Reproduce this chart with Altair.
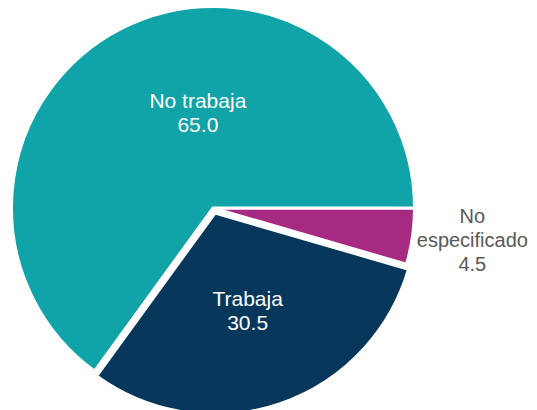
import math
import altair as alt
import pandas as pd

# --- data ---
categories = ["No especificado", "Trabaja", "No trabaja"]
labels = ["No\nespecificado", "Trabaja", "No trabaja"]
values = [4.5, 30.5, 65.0]
order = [0, 1, 2]
colors = ["#a62a82", "#08375c", "#10a4a8"]

df = pd.DataFrame({"categoria": categories, "etiqueta": labels, "valor": values, "orden": order})

theta_scale = alt.Scale(domain=[0, 100], range=[math.pi / 2, math.pi / 2 + 2 * math.pi])
color = alt.Color("categoria:N", scale=alt.Scale(domain=categories, range=colors), legend=None)

base = (
    alt.Chart(df)
    .transform_window(end="sum(valor)", sort=[alt.SortField("orden")], frame=[None, 0])
    .transform_calculate(
        start="datum.end - datum.valor",
        mid="datum.end - datum.valor / 2",
        texto="datum.etiqueta + '\\n' + format(datum.valor, '.1f')",
    )
)

arc_enc = dict(theta=alt.Theta("start:Q", scale=theta_scale), theta2="end:Q", color=color)

pie_rest = (
    base.transform_filter("datum.categoria != 'Trabaja'")
    .mark_arc(outerRadius=201.5, stroke="white", strokeWidth=3)
    .encode(**arc_enc)
)
pie_trab = (
    base.transform_filter("datum.categoria == 'Trabaja'")
    .mark_arc(outerRadius=201.5, stroke="white", strokeWidth=3, xOffset=2, yOffset=5)
    .encode(**arc_enc)
)

text_common = dict(font="Liberation Sans", lineBreak="\n", lineHeight=24,
                   align="center", baseline="middle")

txt_notrab = (
    base.transform_filter("datum.categoria == 'No trabaja'")
    .mark_text(radius=95, dx=28, dy=-21, color="white", fontSize=21, **text_common)
    .encode(theta=alt.Theta("mid:Q", scale=theta_scale), text="texto:N")
)
txt_trab = (
    base.transform_filter("datum.categoria == 'Trabaja'")
    .mark_text(radius=110, dx=-1, dy=-12, color="white", fontSize=21, **text_common)
    .encode(theta=alt.Theta("mid:Q", scale=theta_scale), text="texto:N")
)
txt_noesp = (
    base.transform_filter("datum.categoria == 'No especificado'")
    .mark_text(radius=266, dx=-4, dy=-28, color="#595959", fontSize=20, **text_common)
    .encode(theta=alt.Theta("mid:Q", scale=theta_scale), text="texto:N")
)

chart = (
    alt.layer(pie_rest, pie_trab, txt_notrab, txt_trab, txt_noesp)
    .properties(
        width=410,
        height=400,
        autosize="none",
        padding={"left": 0, "top": 0, "right": 111, "bottom": 2},
    )
    .configure_view(stroke=None)
)

chart.save("out.html", embed_options={"renderer": "svg", "actions": False})
